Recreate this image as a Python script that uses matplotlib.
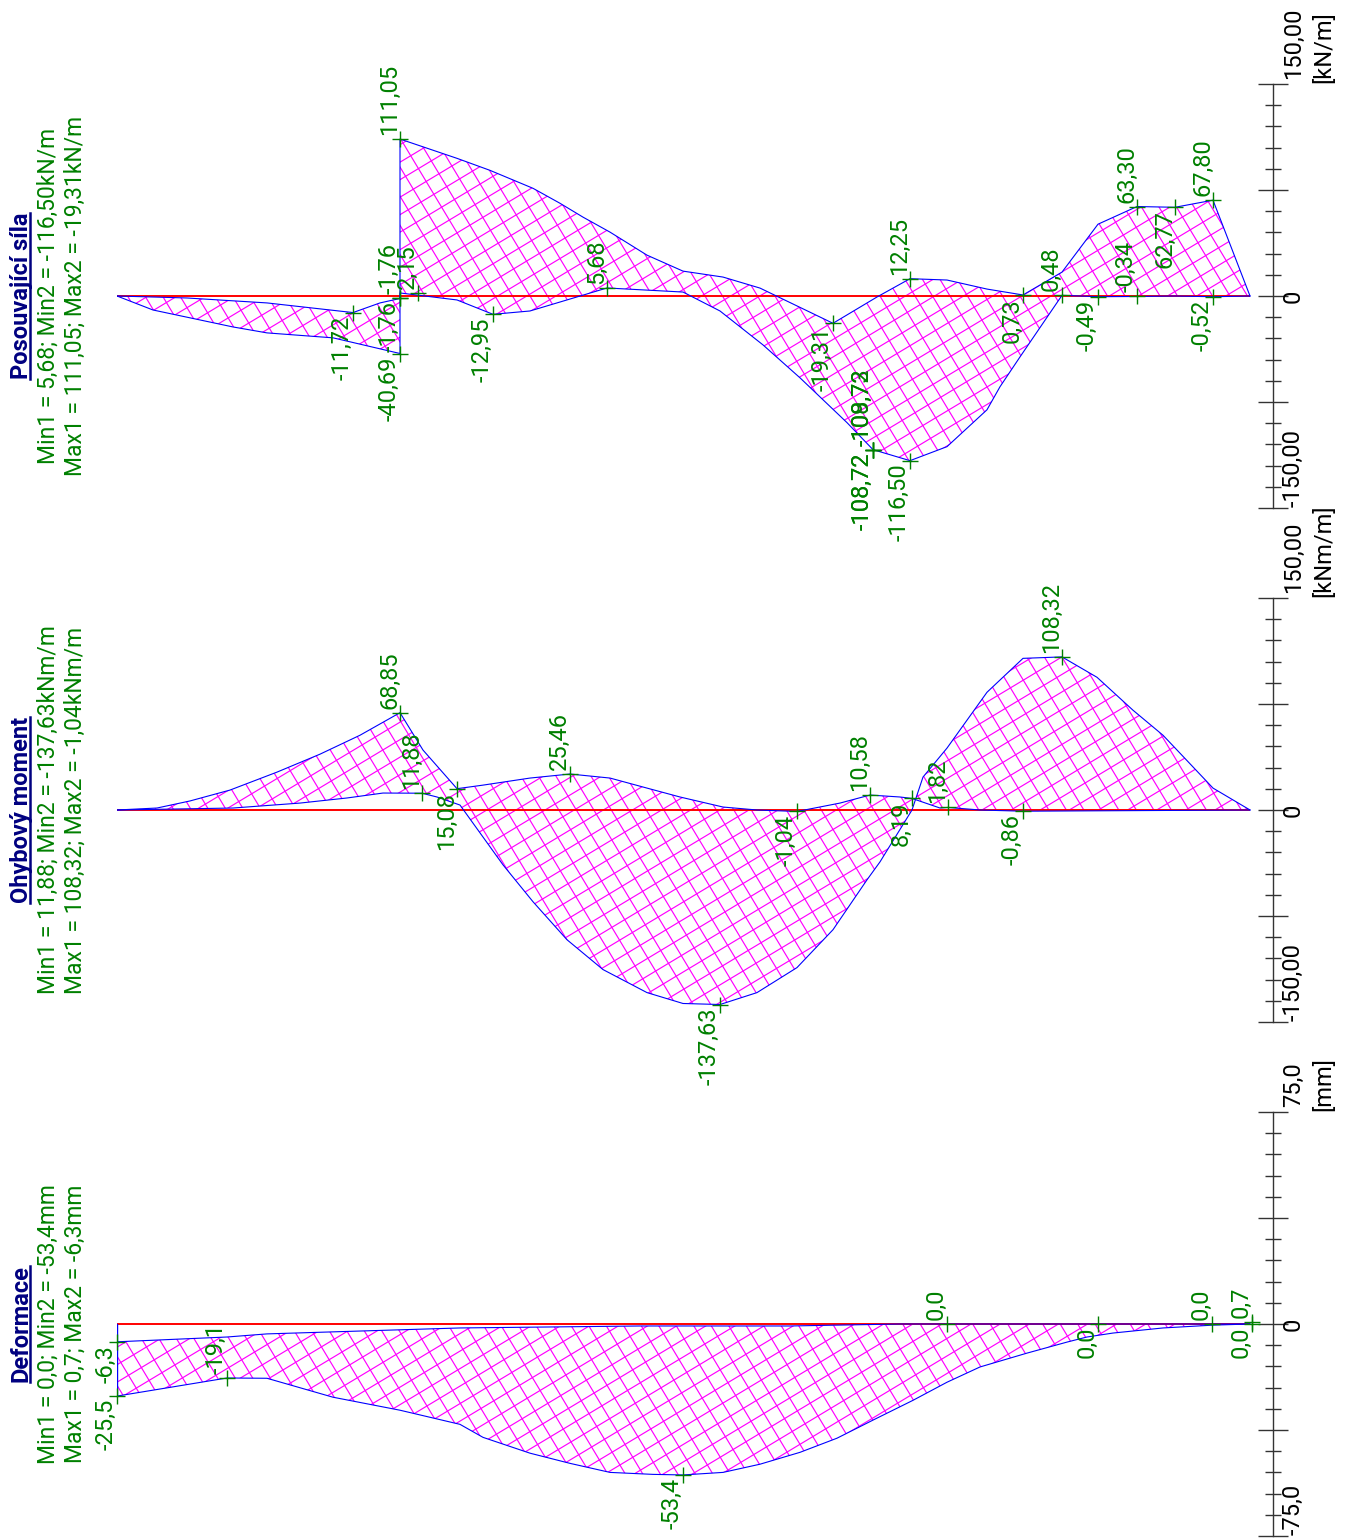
import numpy as np
import matplotlib
matplotlib.use("Agg")
import matplotlib.pyplot as plt
from matplotlib.collections import LineCollection
from matplotlib.lines import Line2D
from matplotlib.transforms import offset_copy
from matplotlib.ticker import FixedLocator

plt.rcParams['font.family'] = ['Roboto', 'DejaVu Sans']

# ---------------- data (x = position along member in m) ----------------
# Posouvající síla [kN/m]
sh_up_x = [0.00, 0.70, 1.50, 2.36, 2.63, 2.83, 2.83, 3.40, 3.73, 4.16, 4.43, 4.66, 4.93, 5.30,
           5.66, 6.06, 6.43, 7.16, 7.60, 7.93, 8.30, 8.70, 9.06, 9.45, 9.81, 10.20, 10.58, 10.96, 11.33]
sh_up_v = [0.0, -1.4, -4.9, -11.72, -4.9, -1.76, 111.05, 97.4, 88.9, 76.2, 65.6, 55.8, 45.2, 28.9,
           17.6, 13.4, 5.6, -19.31, -0.7, 12.25, 11.3, 4.9, 0.73, 16.9, 50.8, 63.30, 62.77, 67.80, 0.0]
sh_lo_x = [0.00, 0.36, 1.16, 1.50, 2.16, 2.83, 2.83, 3.40, 3.76, 4.13, 4.90, 5.66, 6.03, 6.46,
           6.83, 7.30, 7.56, 7.93, 8.30, 8.70, 8.83, 9.03, 9.45, 9.81, 10.20, 10.58, 10.96, 11.33]
sh_lo_v = [0.0, -9.9, -21.9, -26.1, -29.6, -40.69, 2.15, -2.8, -12.95, -10.6, 5.68, 2.8, -10.6, -34.6,
           -57.9, -89.6, -108.72, -116.50, -106.6, -80.5, -64.2, -43.1, 0.48, -0.49, -0.34, 0.0, -0.52, 0.0]
sh_lab_x = [2.36, 2.83, 2.83, 2.83, 3.01, 2.83, 3.76, 4.90, 7.16, 7.56, 7.56, 7.56, 7.56,
            7.93, 7.93, 9.06, 9.45, 9.81, 10.20, 10.20, 10.58, 10.96, 10.96]
sh_lab_v = [-11.72, -40.69, -1.76, -1.76, 2.15, 111.05, -12.95, 5.68, -19.31, -108.72, -108.72,
            -108.72, -108.72, 12.25, -116.50, 0.73, 0.48, -0.49, -0.34, 63.30, 62.77, 67.80, -0.52]
sh_lab_t = ["-11,72", "-40,69", "-1,76", "-1,76", "2,15", "111,05", "-12,95", "5,68", "-19,31",
            "-108,72", "-108,72", "-108,72", "-109,73", "12,25", "-116,50", "0,73", "0,48", "-0,49",
            "-0,34", "63,30", "62,77", "67,80", "-0,52"]
sh_lab_s = ["d", "d", "d", "u", "u", "u", "d", "u", "d", "d", "d", "u", "u", "u", "d", "d", "u", "d",
            "u", "u", "d", "u", "d"]

# Ohybový moment [kNm/m]
mo_up_x = [0.00, 0.40, 0.73, 1.13, 1.60, 2.03, 2.43, 2.83, 3.06, 3.40, 3.66, 4.13, 4.53, 4.93, 5.30,
           5.63, 6.06, 6.40, 6.80, 7.23, 7.53, 7.83, 7.95, 8.23, 8.31, 8.63, 9.06, 11.33]
mo_up_v = [0.0, 1.4, 6.4, 14.1, 26.8, 39.5, 52.9, 68.85, 42.4, 15.08, 17.6, 22.6, 25.46, 22.6, 15.5,
           9.2, 2.1, 0.0, -1.04, 4.9, 10.58, 9.2, 8.19, 1.4, 1.82, 0.0, -0.86, 0.0]
mo_lo_x = [0.00, 1.16, 1.83, 2.30, 2.66, 3.05, 3.20, 3.43, 3.86, 4.16, 4.50, 4.86, 5.30, 5.66, 6.03,
           6.40, 6.80, 7.16, 7.50, 7.63, 7.95, 8.06, 8.30, 8.70, 9.06, 9.45, 9.80, 10.16, 10.46, 10.63,
           10.96, 11.33]
mo_lo_v = [0.0, 1.4, 4.9, 8.5, 12.0, 11.88, 9.2, 3.5, -38.8, -64.9, -91.8, -112.9, -129.2, -136.9,
           -137.63, -129.2, -111.5, -84.7, -49.4, -36.7, 0.0, 23.3, 43.8, 83.3, 107.3, 108.32, 93.9,
           70.6, 52.9, 40.2, 15.5, 0.0]
mo_lab_x = [2.83, 3.05, 3.40, 4.53, 6.80, 7.53, 7.95, 8.31, 9.06, 9.45, 6.03]
mo_lab_v = [68.85, 11.88, 15.08, 25.46, -1.04, 10.58, 8.19, 1.82, -0.86, 108.32, -137.63]
mo_lab_t = ["68,85", "11,88", "15,08", "25,46", "-1,04", "10,58", "8,19", "1,82", "-0,86", "108,32", "-137,63"]
mo_lab_s = ["u", "u", "d", "u", "d", "u", "d", "u", "d", "u", "d"]

# Deformace [mm]
de_up_x = [0.00, 1.10, 1.50, 3.43, 5.23, 6.73, 7.83, 11.33]
de_up_v = [-6.3, -4.6, -3.5, -1.4, -0.7, -0.7, 0.0, 0.0]
de_lo_x = [0.00, 1.10, 1.50, 2.16, 2.83, 3.43, 3.66, 4.13, 4.53, 4.93, 5.36, 5.66, 6.06, 6.43, 6.83,
           7.20, 7.56, 7.96, 8.30, 8.63, 9.10, 9.50, 9.70, 9.96, 10.46, 10.96, 11.33]
de_lo_v = [-25.5, -19.1, -19.2, -25.9, -30.5, -35.5, -40.1, -45.7, -49.3, -52.5, -53.2, -53.4, -52.5,
           -49.6, -45.4, -40.4, -34.0, -27.0, -20.6, -15.2, -10.3, -6.4, -4.6, -3.2, -1.4, -0.4, 0.0]
de_lab_x = [0.00, 0.00, 1.10, 5.66, 8.30, 9.81, 10.95, 11.35, 11.35]
de_lab_v = [-25.5, -6.3, -19.1, -53.4, 0.0, 0.0, 0.0, 0.7, 0.0]
de_lab_t = ["-25,5", "-6,3", "-19,1", "-53,4", "0,0", "0,0", "0,0", "0,7", "0,0"]
de_lab_s = ["d", "d", "u", "d", "u", "d", "u", "u", "d"]

panels = [
    dict(title="Posouvající síla",
         l1="Min1 = 5,68; Min2 = -116,50kN/m", l2="Max1 = 111,05; Max2 = -19,31kN/m",
         unit="[kN/m]", vmax=150.0, tl=["150,00", "0", "-150,00"],
         rows=(0, 545), zero=296.0, ux=sh_up_x, uv=sh_up_v, lx=sh_lo_x, lv=sh_lo_v,
         labx=sh_lab_x, labv=sh_lab_v, labt=sh_lab_t, labs=sh_lab_s, startbar=False),
    dict(title="Ohybový moment",
         l1="Min1 = 11,88; Min2 = -137,63kNm/m", l2="Max1 = 108,32; Max2 = -1,04kNm/m",
         unit="[kNm/m]", vmax=150.0, tl=["150,00", "0", "-150,00"],
         rows=(545, 1060), zero=810.0, ux=mo_up_x, uv=mo_up_v, lx=mo_lo_x, lv=mo_lo_v,
         labx=mo_lab_x, labv=mo_lab_v, labt=mo_lab_t, labs=mo_lab_s, startbar=False),
    dict(title="Deformace",
         l1="Min1 = 0,0; Min2 = -53,4mm", l2="Max1 = 0,7; Max2 = -6,3mm",
         unit="[mm]", vmax=75.0, tl=["75,0", "0", "-75,0"],
         rows=(1060, 1540), zero=1324.0, ux=de_up_x, uv=de_up_v, lx=de_lo_x, lv=de_lo_v,
         labx=de_lab_x, labv=de_lab_v, labt=de_lab_t, labs=de_lab_s, startbar=True),
]

# ---------------- layout / style ----------------
W, H, DPI = 1349, 1540, 100
X_LEFT, X_AXIS = 117, 1273          # px: start of member, vertical scale axis
PX_PER_M = 100.0
HALF_AXIS_PX = 212.0                 # px from zero to +vmax
GREEN, NAVY = "#008000", "#000080"
FS = 17
FS_HEAD = 16.5
TITLE_BASE_PX = 28

fig = plt.figure(figsize=(W / DPI, H / DPI), dpi=DPI)
fig.patch.set_facecolor("white")


def hatch_segments(angle_deg, spacing):
    segs = []
    diag = np.hypot(W, H)
    corners = np.array([[0, 0], [W, 0], [0, H], [W, H]], float)
    for ang in (angle_deg, angle_deg - 90.0):
        a = np.radians(ang)
        u = np.array([np.cos(a), np.sin(a)])
        n = np.array([-u[1], u[0]])
        proj = corners @ n
        for c in np.arange(np.floor(proj.min() / spacing) * spacing, proj.max() + spacing, spacing):
            p0 = c * n - diag * u
            p1 = c * n + diag * u
            segs.append([p0 / [W, H], p1 / [W, H]])
    return segs


HATCH = hatch_segments(31.0, 15.0)
titles = []

for p in panels:
    r0, r1 = p["rows"]
    s = HALF_AXIS_PX / p["vmax"]
    ax = fig.add_axes([X_LEFT / W, 1 - r1 / H, (X_AXIS - X_LEFT) / W, (r1 - r0) / H])
    ax.set_xlim(0, (X_AXIS - X_LEFT) / PX_PER_M)
    ax.set_ylim(-(r1 - p["zero"]) / s, (p["zero"] - r0) / s)
    ax.patch.set_alpha(0)
    for k in ("left", "top", "bottom"):
        ax.spines[k].set_visible(False)
    ax.spines["right"].set_bounds(-p["vmax"], p["vmax"])
    ax.spines["right"].set_color("#333333")
    ax.spines["right"].set_linewidth(1.0)
    ax.set_xticks([])
    ax.yaxis.tick_right()
    vm = p["vmax"]
    ax.yaxis.set_major_locator(FixedLocator(np.linspace(-vm, vm, 5)))
    ax.yaxis.set_minor_locator(FixedLocator(np.linspace(-vm, vm, 21)))
    ax.tick_params(axis="y", which="major", direction="inout", length=21.6, width=1.0,
                   color="#333333", labelright=False, labelleft=False)
    ax.tick_params(axis="y", which="minor", direction="inout", length=11, width=1.0,
                   color="#333333")

    ux, uv = np.array(p["ux"]), np.array(p["uv"])
    lx, lv = np.array(p["lx"]), np.array(p["lv"])

    # hatched area between envelopes
    poly = ax.fill(np.r_[ux, lx[::-1]], np.r_[uv, lv[::-1]], facecolor="none", edgecolor="none")[0]
    lc = LineCollection(HATCH, colors="#ff00ff", linewidths=0.85, transform=fig.transFigure, zorder=2)
    ax.add_collection(lc, autolim=False)
    lc.set_clip_path(poly)

    # zero line and envelopes
    ax.plot([ux[0], ux[-1]], [0, 0], color="red", lw=1.4, zorder=3, solid_capstyle="butt")
    ax.plot(ux, uv, color="blue", lw=0.8, zorder=4)
    ax.plot(lx, lv, color="blue", lw=0.8, zorder=4)
    if p["startbar"]:
        ax.plot([lx[0], lx[0]], [0, lv[0]], color="blue", lw=1.0, zorder=4)

    # extreme markers and values
    ax.plot(p["labx"], p["labv"], "+", color=GREEN, ms=11.5, mew=1.0, zorder=5, clip_on=False)
    for x, v, t, sd in zip(p["labx"], p["labv"], p["labt"], p["labs"]):
        tr = offset_copy(ax.transData, fig=fig, x=-4, y=(4 if sd == "u" else -3), units="dots")
        ax.text(x, v, t, transform=tr, rotation=90, rotation_mode="anchor",
                ha=("left" if sd == "u" else "right"), va="baseline",
                color=GREEN, fontsize=FS, zorder=6)

    # scale labels at the right axis
    ytr = ax.get_yaxis_transform()
    for val, txt, ha, dy in ((vm, p["tl"][0], "left", 5), (0, p["tl"][1], "center", 0),
                             (-vm, p["tl"][2], "left", 1)):
        ax.text(1, val, txt, transform=offset_copy(ytr, fig=fig, x=27, y=dy, units="dots"),
                rotation=90, rotation_mode="anchor", ha=ha, va="baseline",
                color="black", fontsize=FS, clip_on=False)
    ax.text(1, vm, p["unit"], transform=offset_copy(ytr, fig=fig, x=57, y=1, units="dots"),
            rotation=90, rotation_mode="anchor", ha="left", va="baseline",
            color="black", fontsize=FS, clip_on=False)

    # header block at left
    ytr0 = ax.get_yaxis_transform()
    tt = ax.text(0, 0, p["title"],
                 transform=offset_copy(ytr0, fig=fig, x=TITLE_BASE_PX - X_LEFT, y=0, units="dots"),
                 rotation=90, rotation_mode="anchor", ha="center", va="baseline",
                 color=NAVY, fontsize=FS_HEAD + 0.5, fontweight="bold", clip_on=False)
    titles.append(tt)
    for txt, bx in ((p["l1"], 55), (p["l2"], 82)):
        ax.text(0, 0, txt, transform=offset_copy(ytr0, fig=fig, x=bx - X_LEFT, y=0, units="dots"),
                rotation=90, rotation_mode="anchor", ha="center", va="baseline",
                color=GREEN, fontsize=FS_HEAD, clip_on=False)

# underline the titles (just right of the rotated baseline)
fig.canvas.draw()
rend = fig.canvas.get_renderer()
for tt in titles:
    bb = tt.get_window_extent(rend)
    xu = (TITLE_BASE_PX + 1.8) / W
    fig.add_artist(Line2D([xu, xu], [bb.y0 / H, bb.y1 / H], transform=fig.transFigure,
                          color=NAVY, lw=1.8))

fig.savefig("out.png", dpi=DPI, facecolor="white")
